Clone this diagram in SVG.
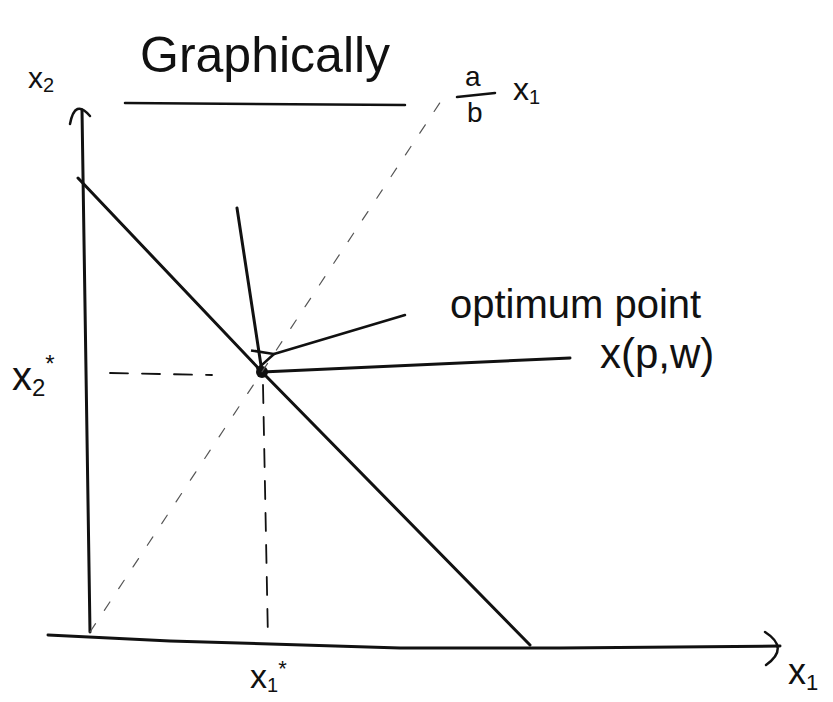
<svg xmlns="http://www.w3.org/2000/svg" width="833" height="702" viewBox="0 0 833 702">
<style>
.t{font-family:"Liberation Sans","DejaVu Sans",sans-serif;fill:#111}
.ln{stroke:#111;fill:none;stroke-linecap:round;stroke-linejoin:round}
.ax{stroke-width:3}
.dash{stroke-width:1.8;stroke-dasharray:18 14}
.dot{stroke-width:1.2;stroke-dasharray:10 16;stroke:#555}
</style>
<defs>
<marker id="ah" markerWidth="30" markerHeight="30" refX="3" refY="15" orient="auto" markerUnits="userSpaceOnUse">
<path d="M24,5 L3,15 L24,25" fill="none" stroke="#111" stroke-width="2.5"/>
</marker>
</defs>
<rect width="833" height="702" fill="#fff"/>
<g id="title">
<text class="t" x="140" y="72" font-size="50">Graphically</text>
<path class="ln" d="M125,103 L405,105" stroke-width="2.5"/>
</g>
<g id="axes">
<path class="ln ax" d="M90,632 L82,110"/>
<path class="ln" d="M70,124 Q75,98 90,116" stroke-width="2.5"/>
<path class="ln ax" d="M48,635 L170,641 L400,648 L560,648 L780,646"/>
<path class="ln" d="M765,632 Q790,648 766,665" stroke-width="2.5"/>
<text class="t" x="28" y="88" font-size="30">x<tspan font-size="20" dy="4">2</tspan></text>
<text class="t" x="788" y="684" font-size="36">x<tspan font-size="22" dy="6">1</tspan></text>
</g>
<g id="budget-line">
<path class="ln ax" d="M78,178 L262,372 L530,645"/>
</g>
<g id="indifference-curve">
<path class="ln ax" d="M237,208 L262,372 L570,358"/>
<circle cx="262" cy="372" r="6" fill="#111"/>
</g>
<g id="ray">
<path class="ln dot" d="M90,632 L445,95"/>
<text class="t" x="465" y="86" font-size="28">a</text>
<path class="ln" d="M457,97 L495,93" stroke-width="2.5"/>
<text class="t" x="467" y="122" font-size="28">b</text>
<text class="t" x="513" y="100" font-size="32">x<tspan font-size="20" dy="4">1</tspan></text>
</g>
<g id="guides">
<path class="ln dash" d="M110,373 L212,375"/>
<path class="ln dash" d="M263,385 L268,640"/>
<text class="t" x="12" y="390" font-size="40">x<tspan font-size="24" dy="6">2</tspan><tspan font-size="24" dy="-24">*</tspan></text>
<text class="t" x="250" y="688" font-size="34">x<tspan font-size="20" dy="4">1</tspan><tspan font-size="22" dy="-16">*</tspan></text>
</g>
<g id="label">
<path class="ln" d="M405,315 L274,354" stroke-width="2.5" marker-end="url(#ah)"/>
<text class="t" x="450" y="318" font-size="40">optimum point</text>
<text class="t" x="600" y="368" font-size="42">x(p,w)</text>
</g>
</svg>
